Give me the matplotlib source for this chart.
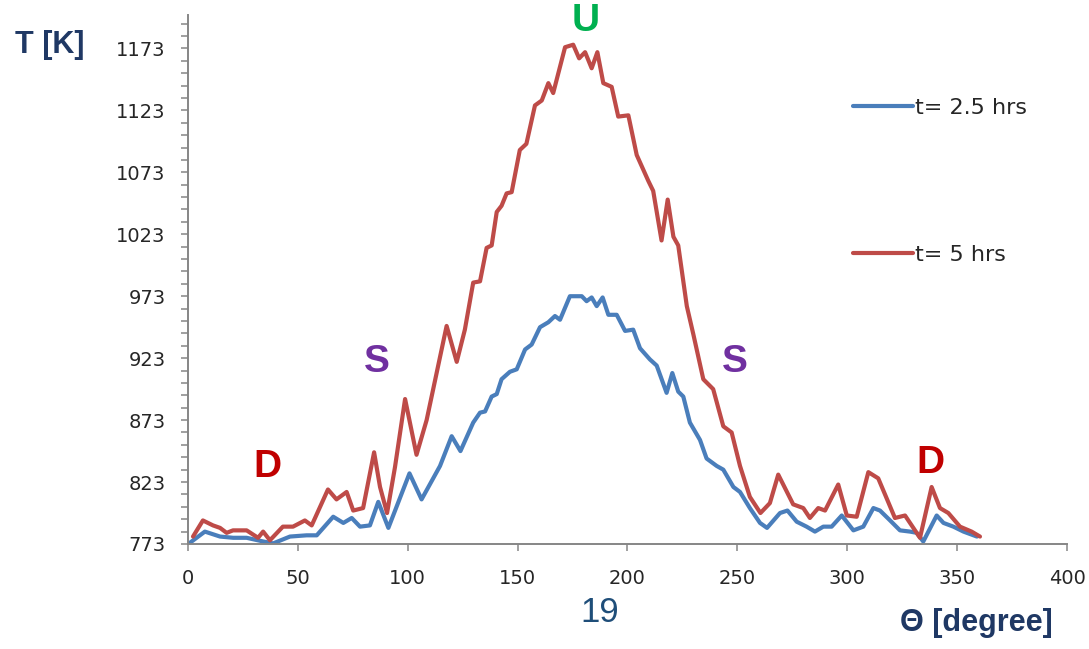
import numpy as np
import matplotlib.pyplot as plt
from matplotlib.ticker import MultipleLocator

plt.rcParams['font.family'] = ['Liberation Sans', 'DejaVu Sans']

# t = 5 hrs (red)
theta_5 = [2.3, 6.8, 11.4, 14.6, 17.6, 20.5, 26.7, 31.9, 34.2, 37.3, 43.2, 47.8,
           53.2, 56.3, 63.7, 67.6, 72.2, 75.2, 79.7, 84.7, 87.4, 90.6, 94.2, 98.8,
           104.0, 108.6, 117.7, 122.3, 126.0, 129.8, 132.9, 135.9, 138.2, 140.5,
           142.7, 145.0, 147.3, 151.0, 154.0, 157.9, 161.0, 164.0, 166.2, 171.6,
           175.3, 178.0, 180.7, 183.7, 186.3, 189.0, 192.8, 195.8, 200.4, 204.2,
           209.5, 211.7, 215.5, 218.3, 220.9, 223.1, 227.0, 230.0, 234.5, 239.0,
           243.6, 247.4, 251.2, 255.7, 260.5, 264.8, 268.6, 275.4, 280.0, 283.0,
           286.8, 289.9, 295.9, 299.8, 304.3, 309.6, 314.1, 321.7, 326.3, 333.1,
           338.4, 342.2, 346.0, 351.3, 356.6, 360.4]
temp_5 = [779, 792, 788, 786, 782, 784, 784, 778, 783, 776, 787, 787,
          792, 788, 817, 809, 815, 800, 802, 847, 819, 798, 835, 890,
          845, 873, 949, 920, 946, 984, 985, 1012, 1014, 1041,
          1046, 1056, 1057, 1091, 1096, 1127, 1131, 1145, 1137, 1174,
          1176, 1165, 1170, 1157, 1170, 1145, 1142, 1118, 1119, 1087,
          1066, 1058, 1018, 1051, 1021, 1014, 965, 942, 906, 898,
          868, 863, 836, 811, 798, 806, 829, 805, 802, 794,
          802, 800, 821, 796, 795, 831, 826, 794, 796, 778,
          819, 802, 798, 787, 783, 779]

# t = 2.5 hrs (blue)
theta_25 = [0.9, 7.7, 14.6, 20.6, 26.7, 34.3, 38.8, 46.4, 54.0, 58.6, 66.1, 70.7,
            74.5, 78.3, 82.8, 86.6, 91.2, 100.8, 106.3, 114.7, 120.0, 124.0, 129.8,
            132.9, 135.2, 138.2, 140.5, 142.7, 146.5, 149.6, 153.4, 156.4, 160.2,
            164.0, 167.0, 169.3, 173.8, 176.9, 179.2, 181.4, 183.7, 186.0, 188.7,
            191.3, 195.1, 198.9, 202.6, 205.7, 210.2, 213.3, 217.8, 220.4, 223.1,
            225.4, 228.4, 233.0, 236.0, 240.6, 243.6, 248.2, 251.2, 255.7, 260.3,
            263.5, 269.4, 272.8, 277.0, 281.5, 285.3, 289.1, 292.9, 297.5, 302.8,
            307.3, 311.9, 314.9, 319.5, 324.0, 328.6, 331.6, 334.6, 340.7, 343.8,
            348.3, 352.9, 359.0]
temp_25 = [774, 783, 779, 778, 778, 775, 773.5, 779, 780, 780, 795, 790,
           794, 787, 788, 807, 786, 830, 809, 836, 860, 848, 871,
           879, 880, 892, 894, 906, 912, 914, 930, 934, 948,
           952, 957, 954, 973, 973, 973, 969, 972, 965, 972,
           958, 958, 945, 946, 931, 922, 917, 895, 911, 896,
           892, 871, 857, 842, 836, 833, 819, 815, 802, 790,
           786, 798, 800, 791, 787, 783, 787, 787, 796, 784,
           787, 802, 800, 792, 784, 783, 782, 775, 796, 790,
           787, 783, 779]

labels = ['t= 2.5 hrs', 't= 5 hrs']
zones = [('D', 36, 835, '#C00000'), ('S', 86, 920, '#7030A0'), ('U', 181, 1195, '#00B050'),
         ('S', 249, 920, '#7030A0'), ('D', 338, 838, '#C00000')]

fig = plt.figure(figsize=(10.89, 6.49), dpi=100)
ax = fig.add_axes([0.1726, 0.1618, 0.8072, 0.8151])

ax.plot(theta_25, temp_25, color='#4A7EBB', lw=3.0, label=labels[0],
        solid_joinstyle='round', solid_capstyle='round')
ax.plot(theta_5, temp_5, color='#BE4B48', lw=3.0, label=labels[1],
        solid_joinstyle='round', solid_capstyle='round')

ax.set_xlim(0, 400)
ax.set_ylim(773, 1200)
ax.xaxis.set_major_locator(MultipleLocator(50))
ax.set_yticks(np.arange(773, 1200, 50))
ax.yaxis.set_minor_locator(plt.FixedLocator(np.arange(773, 1201, 10)))

for s in ['top', 'right']:
    ax.spines[s].set_visible(False)
for s in ['left', 'bottom']:
    ax.spines[s].set_color('#868686')
    ax.spines[s].set_linewidth(1.4)
ax.tick_params(which='both', direction='out', color='#868686', width=1.1, length=5,
               labelsize=14, labelcolor='#262626')
ax.tick_params(axis='y', pad=11)
ax.tick_params(axis='x', pad=13)
for lab in ax.get_xticklabels() + ax.get_yticklabels():
    lab.set_family('DejaVu Sans')

for txt, x, y, c in zones:
    ax.text(x, y, txt, color=c, fontsize=28, fontweight='bold', ha='center', va='center',
            clip_on=False)

leg = ax.legend(loc='upper left', bbox_to_anchor=(853 / 1089, 1 - 98 / 649),
                bbox_transform=fig.transFigure, frameon=False,
                prop={'family': 'DejaVu Sans', 'size': 16},
                handlelength=2.7, handletextpad=0.1, labelspacing=5.7,
                borderpad=0, borderaxespad=0)
for t in leg.get_texts():
    t.set_color('#262626')

fig.text(0.046, 0.931, 'T [K]', color='#1F3864', fontsize=22, fontweight='bold',
         ha='center', va='center')
fig.text(0.897, 0.040, 'Θ [degree]', color='#1F3864', fontsize=22, fontweight='bold',
         ha='center', va='center')
fig.text(0.551, 0.057, '19', color='#1F4E79', fontsize=25, ha='center', va='center')

fig.savefig('out.png', dpi=100, facecolor='white')
